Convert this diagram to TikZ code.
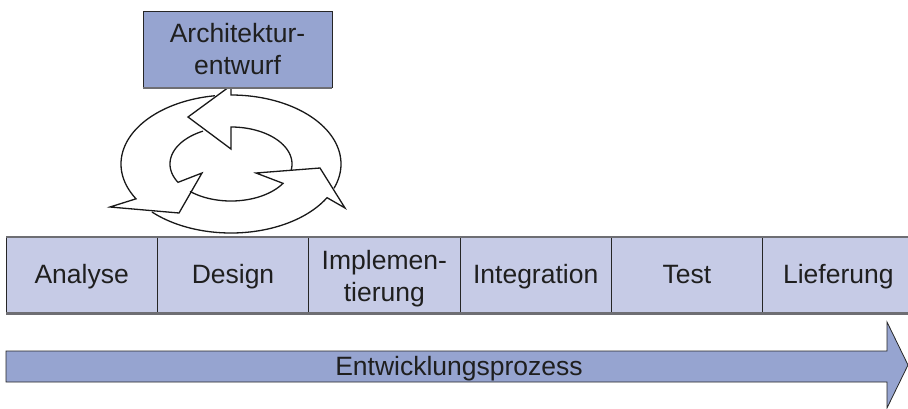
\documentclass[tikz,border=0pt]{standalone}
\usepackage{fontspec}
\setmainfont{Liberation Sans}
\definecolor{boxblue}{RGB}{150,164,208}
\definecolor{cellblue}{RGB}{198,203,230}
\definecolor{edgegray}{RGB}{110,110,115}
\begin{document}
\begin{tikzpicture}[x=1pt,y=-1pt,
  every node/.style={font=\fontsize{26.5}{32}\selectfont, text=black!88},
  cell/.style={draw=black!85, fill=cellblue, line width=0.8pt, minimum width=151.33pt,
    minimum height=76pt, inner sep=0pt, outer sep=0pt, align=center},
  oneline/.style={text height=21pt, text depth=4pt},
  archbox/.style={draw=black!85, fill=boxblue, line width=0.8pt, minimum width=189pt,
    minimum height=76pt, inner sep=0pt, align=center},
  ring/.style={draw=black!90, line width=1.3pt, line join=miter},
  grayedge/.style={draw=edgegray, line width=2.5pt},
  procarrow/.style={draw=black!85, fill=boxblue, line width=0.8pt, line join=miter}]
\useasboundingbox (0,0) rectangle (908,408);
\begin{scope}
\clip (0,0) rectangle (908,408);
% cycle arrows
\draw[ring] plot[domain=339.4:450, samples=70] ({231+110*cos(\x)},{164-69*sin(\x)})
  -- (231,85.5) -- (188,117) -- (231,149)
  -- plot[domain=450:350.7, samples=70] ({231+61*cos(\x)},{164-37*sin(\x)});
\draw[ring] plot[domain=98.4:210.3, samples=70] ({231+110*cos(\x)},{164-69*sin(\x)})
  -- (110,207) -- (179,213) -- (202,173)
  -- plot[domain=209.7:117.3, samples=70] ({231+61*cos(\x)},{164-37*sin(\x)});
\draw[ring] plot[domain=224.1:330.8, samples=70] ({231+110*cos(\x)},{164-69*sin(\x)})
  -- (345,208) -- (320,168) -- (256,173)
  -- plot[domain=328.5:227.8, samples=70] ({231+61*cos(\x)},{164-37*sin(\x)});
% architecture box
\node[archbox] (arch) at (237.5,49.5) {Architektur-\\entwurf};
\draw[edgegray, line width=1.5pt] (arch.south west) -- (arch.south east);
% phase cells
\node[cell, oneline] (c1) at (81.67,275) {Analyse};
\node[cell, oneline] (c2) at (233,275) {Design};
\node[cell] (c3) at (384.33,275) {\raisebox{0pt}[0pt][0pt]{}};
\node[align=center, inner sep=0pt] (c3t) at ([yshift=-4pt]c3.center) {Implemen-\\tierung};
\node[cell, oneline] (c4) at (535.67,275) {Integration};
\node[cell, oneline] (c5) at (687,275) {Test};
\node[cell, oneline] (c6) at (838.33,275) {Lieferung};
\draw[grayedge, line width=2pt] (c1.north west) -- (c6.north east);
\draw[grayedge, line width=3pt] (c1.south west) -- (c6.south east);
% process arrow
\path[procarrow] (6,351) -- (887,351) -- (887,322) -- (908,365) -- (887,408)
  -- (887,382) -- (6,382) -- cycle;
\node[anchor=base] (proc) at (459,375) {Entwicklungsprozess};
\end{scope}
\end{tikzpicture}
\end{document}
